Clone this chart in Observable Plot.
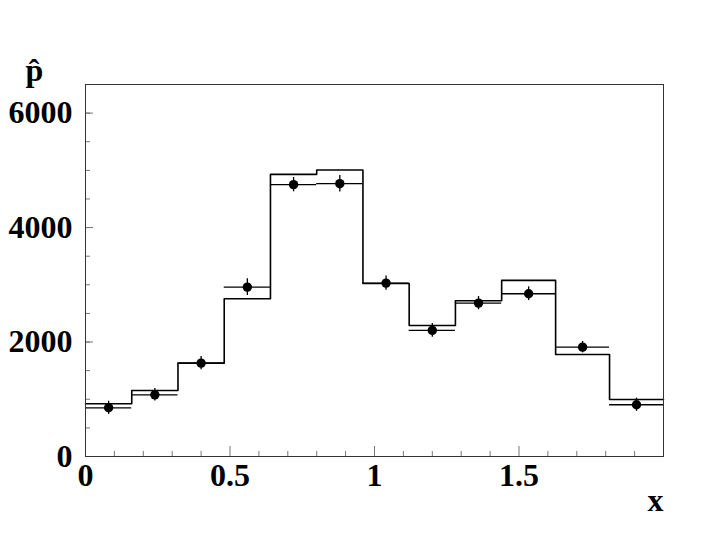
<!DOCTYPE html>
<html><head><meta charset="utf-8">
<script src="https://cdn.jsdelivr.net/npm/d3@7"></script>
<script src="https://cdn.jsdelivr.net/npm/@observablehq/plot@0.6"></script>
<style>body{margin:0;background:#fff}</style>
</head><body><div id="chart"></div>
<script>
const binEdges = [0, 0.16, 0.32, 0.48, 0.64, 0.80, 0.96, 1.12, 1.28, 1.44, 1.6267, 1.8133, 2.0];
const histValues = [921, 1154, 1631, 2757, 4930, 5005, 3024, 2290, 2722, 3077, 1783, 997];
const dataValues = [851, 1078, 1631, 2960, 4750, 4767, 3030, 2203, 2680, 2844, 1911, 904];
const dataErrors = [115, 110, 115, 145, 125, 145, 125, 120, 115, 120, 100, 115];
const xTickLabels = [0, 0.5, 1, 1.5];
const xMinorTicks = d3.range(0, 20).map(i => i / 10);
const yTickLabels = [0, 2000, 4000, 6000];
const yMinorTicks = d3.range(0, 6501, 500);
const xTitle = "x";
const yTitle = "p\u0302";

const bins = histValues.map((v, i) => ({
  lo: binEdges[i], hi: binEdges[i + 1], mid: (binEdges[i] + binEdges[i + 1]) / 2,
  hist: v, data: dataValues[i], err: dataErrors[i]
}));
const stepPts = bins.map(b => ({x: b.lo, y: b.hist})).concat([{x: binEdges[binEdges.length - 1], y: histValues[histValues.length - 1]}]);

const font = "'Liberation Serif', 'Times New Roman', serif";
const chart = Plot.plot({
  width: 720, height: 541,
  marginLeft: 85, marginRight: 57, marginTop: 84, marginBottom: 85,
  style: {background: "#fff", fontFamily: font},
  x: {domain: [0, 2]},
  y: {domain: [0, 6500]},
  marks: [
    Plot.axisX({ticks: xMinorTicks.filter(t => Math.abs(t * 2 - Math.round(t * 2)) > 1e-9), tickSize: -5, text: null, stroke: "#777"}),
    Plot.axisX({ticks: xTickLabels.concat([2]), tickSize: -10, text: null, stroke: "#777"}),
    Plot.axisX({ticks: xTickLabels, tickFormat: d => String(d), tickSize: 0, tickPadding: 7, fontSize: 32, fontWeight: "bold", fill: "#000", label: null, lineAnchor: "top"}),
    Plot.axisY({ticks: yMinorTicks, tickSize: -5, text: null, stroke: "#777"}),
    Plot.axisY({ticks: yTickLabels, tickSize: -8, text: null, stroke: "#777"}),
    Plot.axisY({ticks: yTickLabels, tickFormat: d => String(d), tickSize: 0, tickPadding: 13, fontSize: 32, fontWeight: "bold", fill: "#000", label: null}),
    Plot.line(stepPts, {x: "x", y: "y", curve: "step-after", stroke: "#000", strokeWidth: 1.6}),
    Plot.ruleY(bins, {y: "data", x1: "lo", x2: "hi", stroke: "#000", strokeWidth: 1.3}),
    Plot.ruleX(bins, {x: "mid", y1: d => d.data - d.err, y2: d => d.data + d.err, stroke: "#000", strokeWidth: 1.3}),
    Plot.dot(bins, {x: "mid", y: "data", r: 4.7, fill: "#000", stroke: null}),
    Plot.frame({stroke: "#333", strokeWidth: 1}),
    Plot.text([xTitle], {frameAnchor: "bottom-right", dx: -8, dy: 44, text: d => d, fontSize: 32, fontWeight: "bold", textAnchor: "middle", lineAnchor: "middle", fill: "#000"}),
    Plot.text([yTitle], {frameAnchor: "top-left", dx: -51, dy: -4, text: d => d, fontSize: 32, fontWeight: "bold", textAnchor: "middle", lineAnchor: "bottom", fill: "#000"})
  ]
});
document.getElementById("chart").appendChild(chart);
</script>
</body></html>
